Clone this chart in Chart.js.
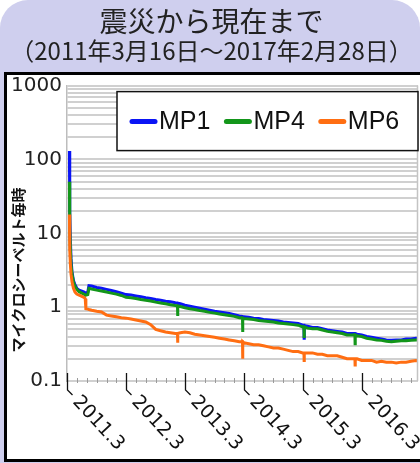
<!DOCTYPE html>
<html>
<head>
<meta charset="utf-8">
<script src="https://cdn.jsdelivr.net/npm/chart.js@4"></script>
<style>
html, body { margin: 0; padding: 0; background: #fff; }
</style>
</head>
<body>
<canvas id="chart" width="420" height="463"></canvas>
<script>
// 観測日
const dates = [
	'2011-03-16', '2011-03-17', '2011-03-19', '2011-03-22', '2011-03-26', '2011-04-01', '2011-04-10', '2011-04-20',
	'2011-05-01', '2011-05-15', '2011-06-01', '2011-06-15', '2011-06-22', '2011-06-26', '2011-07-08', '2011-07-15',
	'2011-08-01', '2011-09-01', '2011-10-01', '2011-11-01', '2011-12-01', '2012-01-01', '2012-02-01', '2012-03-01',
	'2012-04-01', '2012-05-01', '2012-06-01', '2012-07-01', '2012-08-01', '2012-09-01', '2012-10-01', '2012-11-01',
	'2012-12-01', '2013-01-01', '2013-01-14', '2013-01-15', '2013-01-16', '2013-02-01', '2013-03-01', '2013-04-01',
	'2013-05-01', '2013-06-01', '2013-07-01', '2013-08-01', '2013-09-01', '2013-10-01', '2013-11-01', '2013-12-01',
	'2014-01-01', '2014-02-01', '2014-02-21', '2014-02-22', '2014-02-23', '2014-03-01', '2014-04-01', '2014-05-01',
	'2014-06-01', '2014-07-01', '2014-08-01', '2014-09-01', '2014-10-01', '2014-11-01', '2014-12-01', '2015-01-01',
	'2015-02-01', '2015-03-01', '2015-03-09', '2015-03-10', '2015-03-11', '2015-04-01', '2015-05-01', '2015-06-01',
	'2015-07-01', '2015-08-01', '2015-09-01', '2015-10-01', '2015-11-01', '2015-12-01', '2016-01-01', '2016-01-19',
	'2016-01-20', '2016-01-21', '2016-02-01', '2016-03-01', '2016-04-01', '2016-05-01', '2016-06-01', '2016-07-01',
	'2016-08-01', '2016-09-01', '2016-10-01', '2016-11-01', '2016-12-01', '2017-01-01', '2017-02-01', '2017-02-28'
];

// マイクロシーベルト毎時
const mp1 = [
	130, 60, 20, 8, 4.5, 3.0, 2.3, 2.0,
	1.8, 1.7, 1.65, 1.6, 1.55, 1.55, 1.6, 1.95,
	1.93, 1.85, 1.80, 1.74, 1.68, 1.62, 1.55, 1.48,
	1.46, 1.42, 1.38, 1.34, 1.31, 1.27, 1.24, 1.20,
	1.18, 1.15, 1.14, 1.13, 1.13, 1.11, 1.06, 1.03,
	1.00, 0.97, 0.94, 0.91, 0.88, 0.86, 0.84, 0.82,
	0.79, 0.76, 0.75, 0.75, 0.75, 0.74, 0.73, 0.71,
	0.70, 0.68, 0.67, 0.66, 0.65, 0.63, 0.62, 0.61,
	0.60, 0.57, 0.57, 0.38, 0.56, 0.55, 0.53, 0.53,
	0.51, 0.49, 0.48, 0.47, 0.46, 0.44, 0.44, 0.44,
	0.44, 0.44, 0.43, 0.42, 0.40, 0.39, 0.38, 0.37,
	0.36, 0.355, 0.36, 0.36, 0.37, 0.37, 0.38, 0.37
];
const mp4 = [
	50, 25, 12, 6, 3.8, 2.8, 2.2, 1.9,
	1.75, 1.62, 1.55, 1.5, 1.45, 1.45, 1.48, 1.8,
	1.76, 1.70, 1.65, 1.60, 1.55, 1.50, 1.44, 1.36,
	1.34, 1.31, 1.27, 1.24, 1.21, 1.17, 1.14, 1.11,
	1.08, 1.05, 1.04, 0.76, 1.04, 1.02, 0.98, 0.95,
	0.93, 0.90, 0.88, 0.85, 0.83, 0.81, 0.79, 0.77,
	0.75, 0.72, 0.71, 0.46, 0.71, 0.70, 0.69, 0.68,
	0.66, 0.65, 0.64, 0.63, 0.61, 0.60, 0.59, 0.58,
	0.57, 0.54, 0.54, 0.40, 0.54, 0.52, 0.51, 0.51,
	0.49, 0.47, 0.46, 0.45, 0.44, 0.42, 0.42, 0.42,
	0.32, 0.42, 0.41, 0.40, 0.38, 0.37, 0.36, 0.355,
	0.345, 0.34, 0.345, 0.35, 0.35, 0.355, 0.36, 0.36
];
const mp6 = [
	18, 10, 6, 3.8, 2.8, 2.2, 1.8, 1.6,
	1.5, 1.45, 1.4, 1.35, 1.3, 0.95, 0.94, 0.93,
	0.91, 0.88, 0.86, 0.78, 0.76, 0.74, 0.72, 0.71,
	0.69, 0.67, 0.65, 0.63, 0.58, 0.50, 0.48, 0.46,
	0.45, 0.44, 0.44, 0.33, 0.44, 0.45, 0.46, 0.45,
	0.43, 0.42, 0.41, 0.40, 0.39, 0.38, 0.37, 0.36,
	0.35, 0.34, 0.34, 0.20, 0.34, 0.33, 0.32, 0.31,
	0.31, 0.30, 0.29, 0.28, 0.28, 0.27, 0.26, 0.25,
	0.25, 0.24, 0.24, 0.19, 0.24, 0.24, 0.24, 0.23,
	0.23, 0.22, 0.22, 0.22, 0.21, 0.20, 0.20, 0.20,
	0.165, 0.20, 0.20, 0.19, 0.19, 0.19, 0.18, 0.185,
	0.18, 0.18, 0.175, 0.18, 0.18, 0.185, 0.19, 0.185
];

const seriesNames = ['MP1', 'MP4', 'MP6'];
const seriesColors = ['#0a14f5', '#13961a', '#ff6e12'];
const xTickLabels = ['2011.3', '2012.3', '2013.3', '2014.3', '2015.3', '2016.3'];
const yTickLabels = ['0.1', '1', '10', '100', '1000'];
const yTitle = 'マイクロシーベルト毎時';

function toPoints(values) {
	return dates.map((d, i) => ({ x: Date.parse(d), y: values[i] }));
}

// 背景と枠
const frame = {
	id: 'frame',
	beforeDraw(chart) {
		const ctx = chart.ctx;
		ctx.save();
		ctx.fillStyle = '#ffffff';
		ctx.fillRect(0, 0, chart.width, chart.height);
		ctx.fillStyle = '#cfcfee';
		ctx.beginPath();
		ctx.roundRect(0, 0, chart.width, chart.height, [28, 28, 0, 0]);
		ctx.fill();
		ctx.fillStyle = '#ffffff';
		ctx.fillRect(5.5, 73.5, 440, 387);
		ctx.strokeStyle = '#000';
		ctx.lineWidth = 3;
		ctx.strokeRect(5.5, 73.5, 440, 387);
		ctx.restore();
	}
};

// 凡例、軸ラベル
const decorations = {
	id: 'decorations',
	afterDraw(chart) {
		const ctx = chart.ctx;
		const a = chart.chartArea;
		const xs = chart.scales.x;
		ctx.save();

		// 右端の線
		ctx.strokeStyle = '#c4c4c4';
		ctx.lineWidth = 1.5;
		ctx.beginPath();
		ctx.moveTo(a.right - 0.5, a.top);
		ctx.lineTo(a.right - 0.5, a.bottom);
		ctx.stroke();

		// 凡例
		const bx = a.left + 50, by = a.top + 6, bw = a.right - bx, bh = 59;
		ctx.fillStyle = '#fff';
		ctx.fillRect(bx, by, bw, bh);
		ctx.strokeStyle = '#111';
		ctx.lineWidth = 1.5;
		ctx.strokeRect(bx, by, bw, bh);
		ctx.font = '25px "Liberation Sans"';
		ctx.textBaseline = 'middle';
		ctx.textAlign = 'left';
		let lx = bx + 13;
		const ly = by + 30;
		chart.data.datasets.forEach(ds => {
			ctx.strokeStyle = ds.borderColor;
			ctx.lineWidth = 5;
			ctx.lineCap = 'round';
			ctx.beginPath();
			ctx.moveTo(lx + 2, ly);
			ctx.lineTo(lx + 25, ly);
			ctx.stroke();
			ctx.fillStyle = '#111';
			ctx.fillText(ds.label, lx + 29, ly + 1);
			lx += 29 + ctx.measureText(ds.label).width + 14;
		});

		// 縦軸タイトル
		ctx.save();
		ctx.translate(18, 270);
		ctx.rotate(-Math.PI / 2);
		ctx.font = 'bold 15px "Noto Sans CJK JP"';
		ctx.textAlign = 'center';
		ctx.fillStyle = '#111';
		ctx.fillText(yTitle, 0, 0);
		ctx.restore();

		// 横軸の目盛り
		const y = a.bottom;
		ctx.strokeStyle = '#9a9a9a';
		ctx.lineWidth = 1;
		ctx.lineCap = 'butt';
		for (let yr = 2011; yr <= 2017; yr++) {
			for (let m = 0; m < 12; m += 2) {
				const t = Date.UTC(yr, m, 1);
				if (t < xs.min || t > xs.max) continue;
				const px = Math.round(xs.getPixelForValue(t)) + 0.5;
				ctx.beginPath();
				ctx.moveTo(px, y - 3);
				ctx.lineTo(px, y + 2);
				ctx.stroke();
			}
		}
		ctx.strokeStyle = '#111';
		ctx.lineWidth = 1.3;
		ctx.fillStyle = '#111';
		ctx.font = '19px "DejaVu Sans"';
		ctx.textAlign = 'left';
		ctx.textBaseline = 'middle';
		xTickLabels.forEach((label, i) => {
			const px = Math.round(xs.getPixelForValue(Date.UTC(2011 + i, 2, 1))) + 0.5;
			ctx.beginPath();
			ctx.moveTo(px, y - 8);
			ctx.lineTo(px, y + 9);
			ctx.lineTo(px + 5, y + 14);
			ctx.stroke();
			ctx.save();
			ctx.translate(px + 8, y + 18);
			ctx.rotate(47 * Math.PI / 180);
			ctx.fillText(label, 0, 0);
			ctx.restore();
		});
		ctx.restore();
	}
};

new Chart(document.getElementById('chart').getContext('2d'), {
	type: 'line',
	data: {
		datasets: seriesNames.map((name, i) => ({
			label: name,
			data: toPoints([mp1, mp4, mp6][i]),
			borderColor: seriesColors[i],
			borderWidth: 3,
			pointRadius: 0,
			fill: false,
			order: 3 - i
		}))
	},
	options: {
		responsive: false,
		animation: false,
		layout: { padding: { top: 3, left: 5, right: 2, bottom: 2 } },
		plugins: {
			legend: { display: false },
			tooltip: { enabled: false },
			title: {
				display: true,
				text: '震災から現在まで',
				color: '#222',
				font: { family: '"Noto Sans CJK JP"', size: 28, weight: 'normal', lineHeight: 1.2 },
				padding: { top: 2, bottom: 0 }
			},
			subtitle: {
				display: true,
				text: '（2011年3月16日～2017年2月28日）',
				color: '#222',
				font: { family: '"Noto Sans CJK JP"', size: 24, weight: 'normal', lineHeight: 1.0 },
				padding: { top: 0, bottom: 23 }
			}
		},
		scales: {
			x: {
				type: 'linear',
				min: Date.UTC(2011, 2, 1),
				max: Date.UTC(2017, 1, 13),
				ticks: { display: false },
				grid: { display: false },
				border: { display: false },
				afterFit: s => { s.height = 80; }
			},
			y: {
				type: 'logarithmic',
				min: 0.1,
				max: 1000,
				afterBuildTicks: s => {
					const t = [];
					for (let e = -1; e <= 2; e++) {
						for (let k = 1; k <= 9; k++) t.push({ value: k * Math.pow(10, e) });
					}
					t.push({ value: 1000 });
					s.ticks = t;
				},
				ticks: {
					autoSkip: false,
					padding: 5,
					color: '#222',
					font: { family: '"DejaVu Sans"', size: 20 },
					callback: v => {
						const i = [0.1, 1, 10, 100, 1000].indexOf(v);
						return i >= 0 ? yTickLabels[i] : '';
					}
				},
				grid: { color: '#d0d0d0', lineWidth: 2, drawTicks: false },
				border: { display: true, color: '#bdbdbd', width: 1.5 },
				afterFit: s => { s.width = 62; }
			}
		}
	},
	plugins: [frame, decorations]
});
</script>
</body>
</html>
